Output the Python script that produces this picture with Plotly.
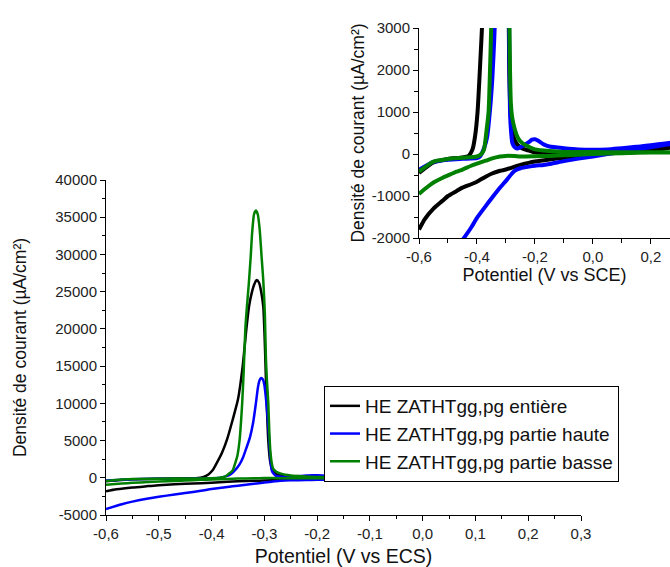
import plotly.graph_objects as go

# ---------------- data (potential V vs ECS, current density µA/cm²) ----------------
# Black: HE ZATHTgg,pg entière  (forward branch then reverse branch)
X_BLACK = [-0.6, -0.58, -0.55, -0.52, -0.5, -0.47, -0.45, -0.42, -0.4, -0.37, -0.35, -0.32, -0.3,
           -0.27, -0.25, -0.2, -0.15, -0.1, -0.05, 0.0, 0.05, 0.1, 0.15, 0.2, 0.25, 0.3,
           0.3, 0.2, 0.1, 0.0, -0.1, -0.15, -0.2, -0.22, -0.24, -0.25, -0.26, -0.27, -0.279,
           -0.285, -0.289, -0.2925, -0.2955, -0.2975, -0.2995, -0.302, -0.306, -0.31, -0.3145,
           -0.319, -0.324, -0.329, -0.334, -0.341, -0.35, -0.36, -0.37, -0.38, -0.39, -0.398,
           -0.406, -0.415, -0.43, -0.45, -0.5, -0.55, -0.6]
Y_BLACK = [-1800, -1550, -1300, -1120, -1000, -880, -800, -720, -660, -540, -470, -400, -370,
           -300, -260, -180, -130, -90, -50, -20, 20, 50, 80, 110, 150, 190,
           190, 80, 30, 15, 15, 20, 40, 80, 120, 160, 220, 330, 550,
           1100, 2200, 5000, 10000, 14500, 19000, 23000, 25000, 26200, 26560,
           26000, 24800, 23000, 20000, 15000, 10500, 7800, 5300, 3400, 2000, 1000,
           450, 120, -50, -80, -120, -200, -450]

# Blue: HE ZATHTgg,pg partie haute
X_BLUE = [-0.6, -0.57, -0.55, -0.52, -0.5, -0.47, -0.45, -0.42, -0.4, -0.37, -0.35, -0.32, -0.3,
          -0.28, -0.27, -0.25, -0.22, -0.2, -0.17, -0.15, -0.1, -0.05, 0.0, 0.05, 0.1, 0.15,
          0.2, 0.25, 0.3,
          0.3, 0.25, 0.2, 0.15, 0.1, 0.05, 0.0, -0.05, -0.1, -0.15, -0.17, -0.19, -0.2,
          -0.21, -0.22, -0.24, -0.26, -0.268, -0.274, -0.278, -0.282, -0.286, -0.289,
          -0.292, -0.296, -0.3, -0.303, -0.306, -0.309, -0.312, -0.316, -0.321, -0.327,
          -0.334, -0.34, -0.347, -0.355, -0.365, -0.375, -0.39, -0.4, -0.45, -0.5, -0.55, -0.6]
Y_BLUE = [-4200, -3550, -3200, -2780, -2550, -2250, -2050, -1750, -1520, -1240, -1060, -800, -640,
          -470, -400, -340, -300, -280, -260, -240, -170, -110, -60, 0, 50, 110,
          160, 220, 270,
          290, 250, 210, 170, 140, 110, 100, 110, 140, 180, 230, 320, 350,
          340, 290, 200, 130, 150, 200, 260, 500, 1000, 3000,
          6500, 10000, 12500, 13250, 13400, 13100, 12200, 10000, 7500, 5500,
          4000, 2800, 1800, 1050, 400, 150, -60, -100, -115, -135, -190, -380]

# Green: HE ZATHTgg,pg partie basse
X_GREEN = [-0.6, -0.57, -0.55, -0.52, -0.5, -0.47, -0.45, -0.42, -0.4, -0.37, -0.35, -0.32, -0.3,
           -0.27, -0.25, -0.2, -0.15, -0.1, -0.05, 0.0, 0.1, 0.2, 0.3,
           0.3, 0.2, 0.1, 0.0, -0.1, -0.15, -0.2, -0.23, -0.25, -0.26, -0.27, -0.278, -0.283,
           -0.286, -0.2885, -0.2905, -0.2925, -0.295, -0.297, -0.299, -0.302, -0.305, -0.309,
           -0.3125, -0.316, -0.3195, -0.323, -0.326, -0.3295, -0.333, -0.336, -0.339, -0.342,
           -0.347, -0.351, -0.355, -0.36, -0.368, -0.376, -0.385, -0.4, -0.45, -0.5, -0.55, -0.6]
Y_GREEN = [-950, -780, -680, -570, -510, -420, -370, -280, -230, -160, -110, -60, -45,
           -50, -60, -55, -45, -30, -15, 0, 20, 35, 40,
           40, 40, 40, 45, 50, 70, 110, 200, 300, 400, 600, 850, 1200,
           2000, 3500, 6000, 10000, 13000, 16000, 22000, 26500, 29500, 33500,
           35400, 35900, 35400, 33000, 29500, 26000, 23000, 20000, 14500, 10000,
           5000, 3000, 2000, 1000, 500, 100, 0, -60, -90, -120, -180, -420]

SERIES_NAMES = ["HE ZATHTgg,pg entière", "HE ZATHTgg,pg partie haute", "HE ZATHTgg,pg partie basse"]
SERIES_COLORS = ["#000000", "#0000ff", "#008000"]

# tick labels
MAIN_X_TICKS = [-0.6, -0.5, -0.4, -0.3, -0.2, -0.1, 0.0, 0.1, 0.2, 0.3]
MAIN_X_LABELS = ["-0,6", "-0,5", "-0,4", "-0,3", "-0,2", "-0,1", "0,0", "0,1", "0,2", "0,3"]
MAIN_Y_TICKS = [-5000, 0, 5000, 10000, 15000, 20000, 25000, 30000, 35000, 40000]
MAIN_Y_LABELS = [str(v) for v in MAIN_Y_TICKS]
INSET_X_TICKS = [-0.6, -0.4, -0.2, 0.0, 0.2]
INSET_X_LABELS = ["-0,6", "-0,4", "-0,2", "0,0", "0,2"]
INSET_Y_TICKS = [-2000, -1000, 0, 1000, 2000, 3000]
INSET_Y_LABELS = [str(v) for v in INSET_Y_TICKS]

FONT = "Liberation Sans, Arial, sans-serif"
W, H = 670, 567

fig = go.Figure()
data = [(X_BLACK, Y_BLACK), (X_BLUE, Y_BLUE), (X_GREEN, Y_GREEN)]
for (xs, ys), name, col in zip(data, SERIES_NAMES, SERIES_COLORS):
    fig.add_trace(go.Scatter(x=xs, y=ys, mode="lines", name=name,
                             line=dict(color=col, width=2.5, shape="spline", smoothing=0.6),
                             xaxis="x", yaxis="y"))
for (xs, ys), name, col in zip(data, SERIES_NAMES, SERIES_COLORS):
    fig.add_trace(go.Scatter(x=xs, y=ys, mode="lines", name=name, showlegend=False,
                             line=dict(color=col, width=4, shape="spline", smoothing=0.6),
                             xaxis="x2", yaxis="y2"))

axis_common = dict(showline=True, linecolor="#000", linewidth=1, ticks="outside",
                   tickcolor="#000", ticklen=5, showgrid=False, zeroline=False,
                   tickfont=dict(family=FONT, size=15, color="#222"),
                   tickmode="array", automargin=False)

fig.update_layout(
    width=W, height=H,
    margin=dict(l=0, r=0, t=0, b=0, autoexpand=False),
    paper_bgcolor="white", plot_bgcolor="rgba(0,0,0,0)",
    font=dict(family=FONT, color="#222"),
    showlegend=True,
    legend=dict(x=324 / W, y=1 - 386 / H, xanchor="left", yanchor="top",
                bordercolor="#000", borderwidth=1, bgcolor="white",
                font=dict(family=FONT, size=19, color="#111"),
                tracegroupgap=0, itemwidth=30),
    xaxis=dict(axis_common, domain=[106 / W, 581 / W], range=[-0.6, 0.3],
               tickvals=MAIN_X_TICKS, ticktext=MAIN_X_LABELS,
               minor=dict(tickmode="linear", tick0=-0.6, dtick=0.05, ticklen=3,
                          ticks="outside", tickcolor="#000"),
               title=dict(text="Potentiel (V vs ECS)", font=dict(family=FONT, size=19.5, color="#111"),
                          standoff=8),
               anchor="y"),
    yaxis=dict(axis_common, domain=[1 - 515 / H, 1 - 180 / H], range=[-5000, 40000],
               tickvals=MAIN_Y_TICKS, ticktext=MAIN_Y_LABELS,
               minor=dict(tickmode="linear", tick0=-5000, dtick=2500, ticklen=3,
                          ticks="outside", tickcolor="#000"),
               title=dict(text="Densité de courant (µA/cm²)", font=dict(family=FONT, size=17.5, color="#111"),
                          standoff=24),
               anchor="x"),
    xaxis2=dict(axis_common, domain=[419 / W, 1.0], range=[-0.6, 0.266],
                tickvals=INSET_X_TICKS, ticktext=INSET_X_LABELS,
                minor=dict(tickmode="linear", tick0=-0.6, dtick=0.1, ticklen=4,
                           ticks="outside", tickcolor="#000"),
                title=dict(text="Potentiel (V vs SCE)", font=dict(family=FONT, size=18, color="#111"),
                           standoff=2),
                anchor="y2"),
    yaxis2=dict(axis_common, domain=[1 - 238 / H, 1 - 28 / H], range=[-2000, 3000],
                tickvals=INSET_Y_TICKS, ticktext=INSET_Y_LABELS,
                minor=dict(tickmode="linear", tick0=-2000, dtick=500, ticklen=4,
                           ticks="outside", tickcolor="#000"),
                title=dict(text="Densité de courant (µA/cm²)", font=dict(family=FONT, size=17.5, color="#111"),
                           standoff=2),
                anchor="x2"),
)

fig.write_html("out.html", config={"displayModeBar": False},
               post_script="document.body.style.margin='0';document.body.style.padding='0';")
